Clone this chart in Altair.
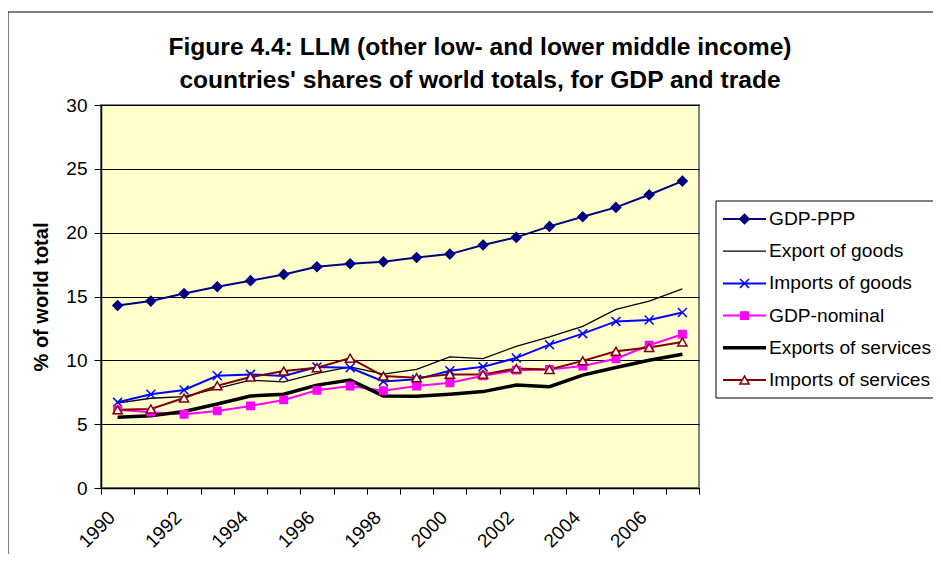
import altair as alt
import pandas as pd

years = list(range(1990, 2008))
series = ["GDP-PPP", "Export of goods", "Imports of goods", "GDP-nominal",
          "Exports of services", "Imports of services"]

gdp_ppp = [14.3, 14.64, 15.24, 15.76, 16.24, 16.73, 17.33, 17.57, 17.72, 18.06,
           18.32, 19.03, 19.63, 20.49, 21.25, 21.98, 22.97, 24.04]
export_goods = [6.64, 7.03, 7.16, 7.8, 8.45, 8.32, 8.97, 9.49, 8.92, 9.29,
                10.27, 10.14, 11.1, 11.83, 12.66, 13.99, 14.64, 15.6]
imports_goods = [6.71, 7.34, 7.68, 8.79, 8.9, 8.77, 9.47, 9.42, 8.35, 8.51,
                 9.19, 9.49, 10.19, 11.23, 12.09, 13.05, 13.16, 13.75]
gdp_nominal = [6.12, 5.94, 5.78, 6.04, 6.43, 6.9, 7.65, 7.99, 7.62, 7.99,
               8.25, 8.79, 9.23, 9.29, 9.55, 10.12, 11.18, 12.04]
exports_services = [5.55, 5.65, 5.99, 6.58, 7.21, 7.34, 8.06, 8.45, 7.21, 7.18,
                    7.34, 7.55, 8.06, 7.94, 8.84, 9.44, 10.01, 10.48]
imports_services = [6.12, 6.19, 7.05, 8.01, 8.69, 9.16, 9.42, 10.17, 8.77, 8.64,
                    8.9, 8.9, 9.36, 9.29, 9.96, 10.71, 11.0, 11.44]

title_lines = ["Figure 4.4: LLM (other low- and lower middle income)",
               "countries' shares of world totals, for GDP and trade"]

values = [gdp_ppp, export_goods, imports_goods, gdp_nominal, exports_services, imports_services]
line_colors = ["#000080", "#000000", "#0000FF", "#FF00FF", "#000000", "#800000"]
line_widths = [2, 1.3, 2, 2, 3.5, 2]

marker_series = ["GDP-PPP", "Imports of goods", "GDP-nominal", "Imports of services"]
marker_shapes = ["diamond", "M-1,-1L1,1M-1,1L1,-1", "square", "triangle-up"]
marker_fill = ["#000080", "transparent", "#FF00FF", "#FFFFFF"]
marker_stroke = ["#000080", "#0000FF", "#FF00FF", "#800000"]
marker_size = [90, 80, 55, 85]

rows = []
for s, vals in zip(series, values):
    for y, v in zip(years, vals):
        rows.append({"year": y, "series": s, "value": v})
df = pd.DataFrame(rows)
df_markers = df[df["series"].isin(marker_series)]

legend_df = pd.DataFrame({"series": series, "idx": list(range(len(series)))})
legend_markers = legend_df[legend_df["series"].isin(marker_series)]

FONT = "Liberation Sans"

x_enc = alt.X("year:O", scale=alt.Scale(type="band", paddingInner=0, paddingOuter=0),
              axis=alt.Axis(title=None, tickBand="extent", tickSize=6, labelAngle=-45,
                            labelAlign="right", labelBaseline="middle", labelPadding=20,
                            labelOffset=-6,
                            labelExpr="datum.value % 2 == 0 ? datum.label : ''",
                            grid=False, domainWidth=1.5))
y_scale = alt.Scale(domain=[0, 30])

color_scale = alt.Scale(domain=series, range=line_colors)
sw_scale = alt.Scale(type="ordinal", domain=series, range=line_widths)
shape_scale = alt.Scale(domain=marker_series, range=marker_shapes)
fill_scale = alt.Scale(domain=marker_series, range=marker_fill)
stroke_scale = alt.Scale(domain=marker_series, range=marker_stroke)
size_scale = alt.Scale(type="ordinal", domain=marker_series, range=marker_size)

one = pd.DataFrame({"a": [0]})

frame = alt.Chart(one).mark_rect(
    fill=None, stroke="black", strokeWidth=1
).encode(x=alt.value(-93), x2=alt.value(3000), y=alt.value(-93), y2=alt.value(3000))

title = alt.Chart(pd.DataFrame({"t": ["\n".join(title_lines)]})).mark_text(
    align="center", baseline="alphabetic", lineBreak="\n", lineHeight=33,
    font=FONT, fontSize=24.6, fontWeight="bold", color="black"
).encode(x=alt.value(379), y=alt.value(-50), text="t:N")

lines = alt.Chart(df).mark_line().encode(
    x=x_enc,
    y=alt.Y("value:Q", scale=y_scale,
            axis=alt.Axis(values=[0, 5, 10, 15, 20, 25, 30], title="% of world total",
                          titleFontSize=20, titleFontWeight="bold", titlePadding=14,
                          tickSize=7, labelPadding=7, domainWidth=1.5)),
    color=alt.Color("series:N", scale=color_scale, legend=None),
    strokeWidth=alt.StrokeWidth("series:N", scale=sw_scale, legend=None),
    detail="series:N",
)

points = alt.Chart(df_markers).mark_point(filled=False, opacity=1, strokeWidth=1.5).encode(
    x=x_enc,
    y=alt.Y("value:Q", scale=y_scale, axis=None),
    shape=alt.Shape("series:N", scale=shape_scale, legend=None),
    fill=alt.Fill("series:N", scale=fill_scale, legend=None),
    stroke=alt.Stroke("series:N", scale=stroke_scale, legend=None),
    size=alt.Size("series:N", scale=size_scale, legend=None),
)

leg_y = alt.Y("idx:Q", scale=alt.Scale(domain=[0, 5], range=[114, 275]), axis=None)

legend_box = alt.Chart(one).mark_rect(
    fill="white", stroke="black", strokeWidth=1
).encode(x=alt.value(615), x2=alt.value(900), y=alt.value(96), y2=alt.value(293))

legend_rules = alt.Chart(legend_df).mark_rule().encode(
    x=alt.value(622), x2=alt.value(665), y=leg_y,
    color=alt.Color("series:N", scale=color_scale, legend=None),
    strokeWidth=alt.StrokeWidth("series:N", scale=sw_scale, legend=None),
)

legend_points = alt.Chart(legend_markers).mark_point(filled=False, opacity=1, strokeWidth=1.5).encode(
    x=alt.value(643.5), y=leg_y,
    shape=alt.Shape("series:N", scale=shape_scale, legend=None),
    fill=alt.Fill("series:N", scale=fill_scale, legend=None),
    stroke=alt.Stroke("series:N", scale=stroke_scale, legend=None),
    size=alt.Size("series:N", scale=size_scale, legend=None),
)

legend_text = alt.Chart(legend_df).mark_text(
    align="left", baseline="middle", font=FONT, fontSize=19.2, color="black"
).encode(x=alt.value(668), y=leg_y, text="series:N")

chart = alt.layer(
    frame, title, lines, points, legend_box, legend_rules, legend_points, legend_text
).resolve_scale(y="independent").properties(
    width=598, height=383,
    padding={"left": 93, "top": 97, "right": 234, "bottom": 66},
    autosize=alt.AutoSizeParams(type="none"),
).configure(font=FONT, background="white").configure_view(
    fill="#FFFFCC", stroke="#808080", strokeWidth=2
).configure_axis(
    labelFont=FONT, labelFontSize=19, labelColor="black", titleFont=FONT,
    titleColor="black", domainColor="black", tickColor="black",
    gridColor="black", gridWidth=1, gridOpacity=1
)

chart.save("out.html", embed_options={"renderer": "svg", "actions": False})
